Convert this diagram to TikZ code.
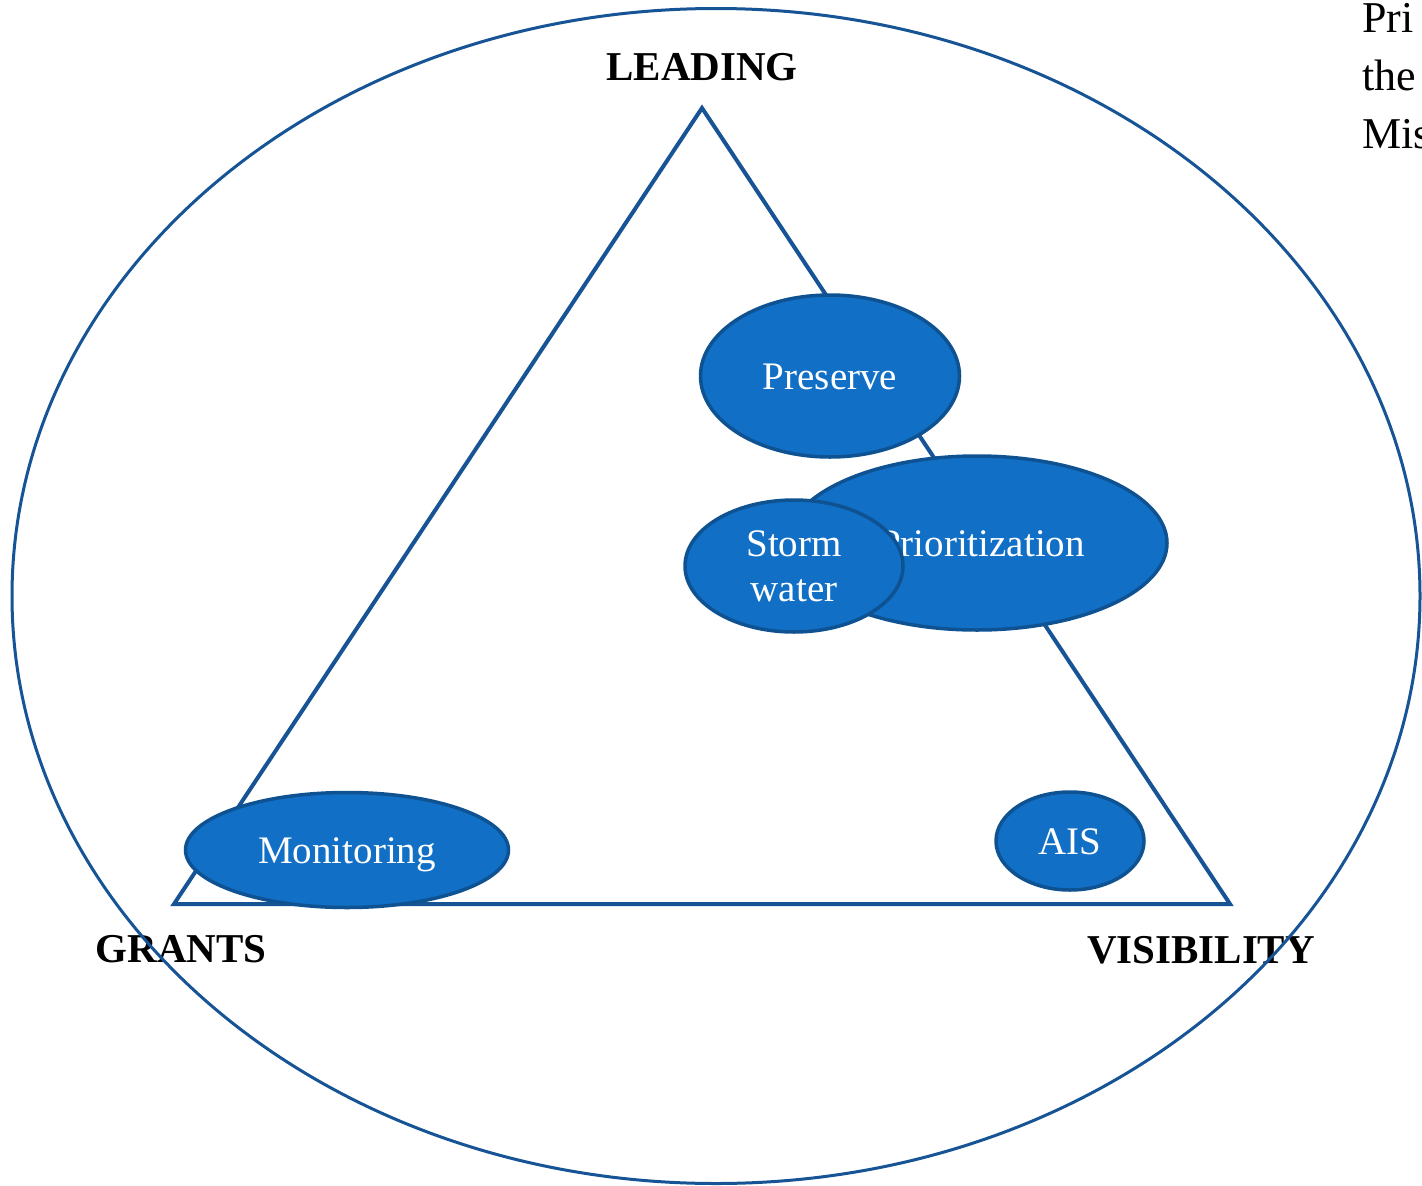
\documentclass[tikz,border=0pt]{standalone}
\usepackage{fontspec}
\setmainfont{Liberation Serif}
\usetikzlibrary{shapes.geometric}
\definecolor{linecol}{RGB}{22,84,150}
\definecolor{fillcol}{RGB}{17,111,198}
\definecolor{edgecol}{RGB}{14,82,146}
\tikzset{
  bubble/.style={ellipse, fill=fillcol, draw=edgecol, line width=3.5pt, inner sep=0pt,
    text=white, font=\fontsize{39}{45}\selectfont, text height=26.5pt, text depth=0pt},
  bubbletext/.style={text=white, font=\fontsize{39}{45}\selectfont, inner sep=0pt},
  corner/.style={font=\fontsize{41}{49}\selectfont\bfseries, anchor=base, inner sep=0pt},
  sidetext/.style={font=\fontsize{44}{52}\selectfont, anchor=base west, inner sep=0pt}
}
\begin{document}
\begin{tikzpicture}[x=1pt,y=-1pt]
\useasboundingbox (0,0) rectangle (1422,1186);
\fill[white] (0,0) rectangle (1422,1186);
% triangle
\coordinate (top) at (702,108);
\coordinate (bl) at (174,904);
\coordinate (br) at (1230,904);
\draw[linecol, line width=4pt, line join=miter] (top) -- (bl) -- (br) -- cycle;
% corner labels
\node[corner] (leading) at (702,80) {LEADING};
\node[corner] (grants) at (181,962) {GRANTS};
\node[corner] (visibility) at (1201,963) {VISIBILITY};
% side text (cut by the page edge)
\node[sidetext] (t1) at (1362,32) {Pri};
\node[sidetext] (t2) at (1362,90) {the};
\node[sidetext] (t3) at (1362,148) {Mis};
% bubbles
\node[bubble, minimum width=259pt, minimum height=162pt] (preserve) at (830,376) {Preserve};
\node[bubble, minimum width=380pt, minimum height=174pt] (prior) at (977,543) {};
\node[bubbletext, anchor=base east] (priortext) at (1085,556) {Prioritization};
\node[bubble, minimum width=218pt, minimum height=132pt, align=center, text height=, text depth=] (storm) at (794,566) {Storm\\water};
\node[bubble, minimum width=323pt, minimum height=115pt] (monitoring) at (347,850) {Monitoring};
\node[bubble, minimum width=148pt, minimum height=98pt] (ais) at (1070,841) {AIS};
% outer ellipse
\node[ellipse, draw=linecol, line width=3pt, minimum width=1408pt, minimum height=1175pt, inner sep=0pt] (outer) at (716,596) {};
\end{tikzpicture}
\end{document}
